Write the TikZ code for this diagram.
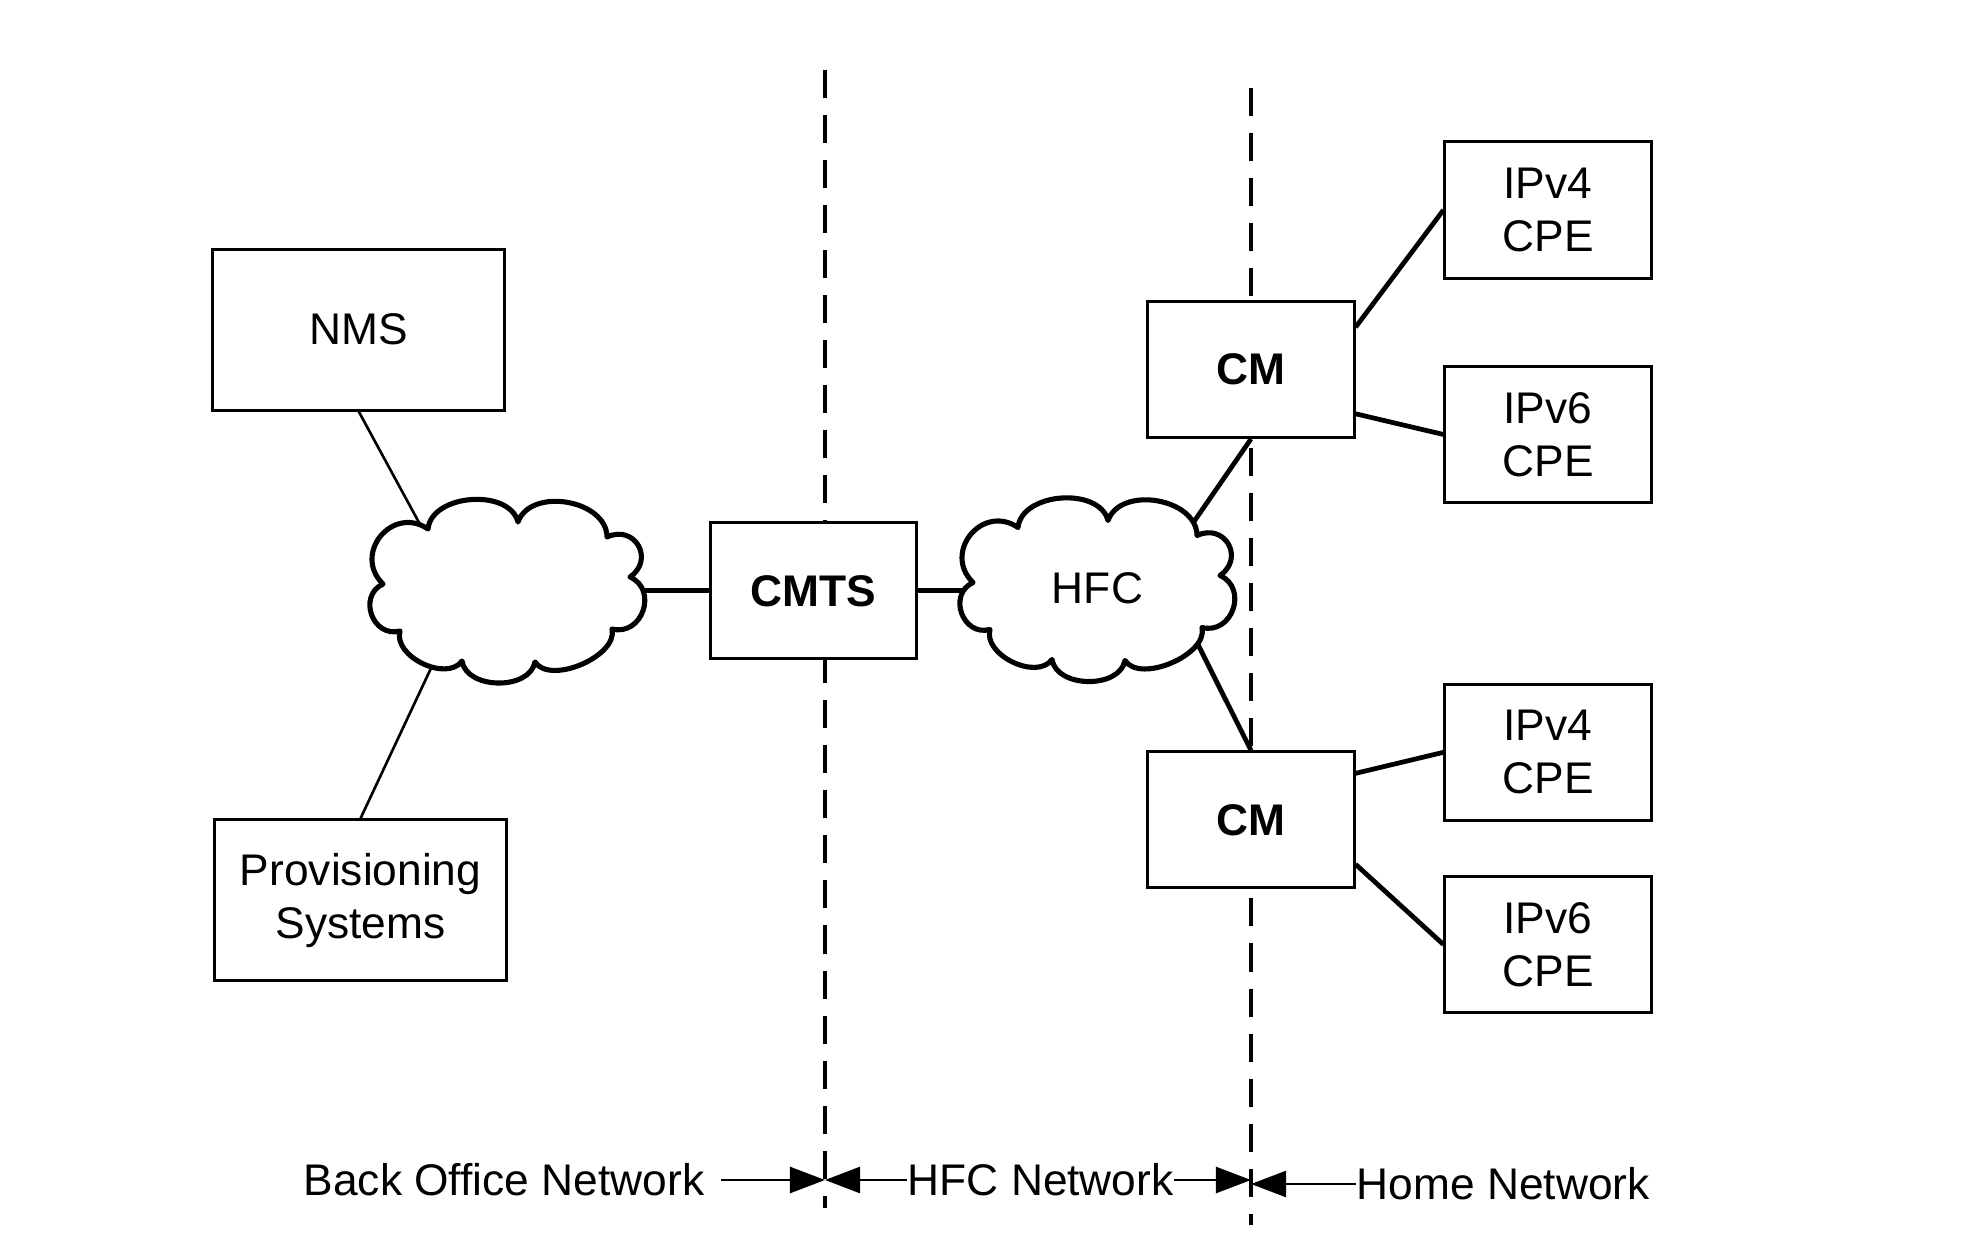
\documentclass[tikz,border=0pt]{standalone}
\usepackage{fontspec}
\setmainfont{Liberation Sans}
\usetikzlibrary{calc,arrows.meta,backgrounds}
\begin{document}
\begin{tikzpicture}[x=0.01cm,y=0.01cm,
  font=\fontsize{12.6}{15}\selectfont,
  box/.style={draw,line width=0.85pt,fill=white,minimum width=2.06cm,minimum height=1.36cm,align=center,inner sep=0pt},
  bigbox/.style={box,minimum width=2.92cm,minimum height=1.61cm},
  boldbox/.style={box,font=\fontsize{12.6}{15}\selectfont\bfseries},
  thinlink/.style={line width=0.75pt},
  thicklink/.style={line width=1.35pt},
  divider/.style={line width=0.9pt,dash pattern=on 0.28cm off 0.17cm},
  cloudline/.style={line width=1.45pt,fill=white,line join=round},
  zonearrow/.style={line width=0.7pt,-{Triangle[length=0.35cm,width=0.26cm]}},
  pics/puffcloud/.style={code={
    \draw[cloudline] (-124.5,7.5)
      to[bend left=85,looseness=1.55] (-79.5,62.5)
      to[bend left=80,looseness=1.0] (10.5,69.5)
      to[bend left=80,looseness=1.06] (99.5,54.5)
      to[bend left=85,looseness=1.7] (122.5,14.5)
      to[bend left=85,looseness=1.45] (104.5,-37.5)
      to[bend left=80,looseness=0.85] (27.5,-70.5)
      to[bend left=80,looseness=1.02] (-45.5,-69.5)
      to[bend left=80,looseness=0.98] (-107.5,-39.5)
      to[bend left=85,looseness=1.45] (-124.5,7.5) -- cycle;
  }}
]
\useasboundingbox (0,0) rectangle (1984,1250);

% boxes
\node[bigbox] (nms) at (358.8,920.4) {NMS};
\node[bigbox] (prov) at (360.6,349.7) {Provisioning\\Systems};
\node[boldbox] (cmts) at (813.5,659.2) {CMTS};
\node[boldbox] (cm1) at (1251,880.6) {CM};
\node[boldbox] (cm2) at (1251,430.1) {CM};
\node[box] (ipv4a) at (1548,1040) {IPv4\\CPE};
\node[box] (ipv6a) at (1548,815.5) {IPv6\\CPE};
\node[box] (ipv4b) at (1548,497.7) {IPv4\\CPE};
\node[box] (ipv6b) at (1548,305.5) {IPv6\\CPE};

% clouds
\coordinate (cloud1) at (507.5,658.5);
\coordinate (cloud2) at (1097.5,660);
\pic at (cloud1) {puffcloud};
\pic at (cloud2) {puffcloud};
\node[inner sep=0pt] (hfc) at ($(cloud2)+(0,2)$) {HFC};

% attachment points inside the clouds
\coordinate (c1a) at ($(cloud1)+(-72.5,39.5)$);
\coordinate (c1b) at ($(cloud1)+(-63.6,-49.2)$);
\coordinate (c1e) at ($(cloud1)+(110,0)$);
\coordinate (c2w) at ($(cloud2)+(-110,0)$);
\coordinate (c2a) at ($(cloud2)+(81,46)$);
\coordinate (c2b) at ($(cloud2)+(91.7,-37)$);

% divider ends
\coordinate (d1top) at (825,1180);
\coordinate (d1bot) at (825,42);
\coordinate (d2top) at (1251,1162);
\coordinate (d2bot) at (1251,25);

\begin{scope}[on background layer]
  \draw[divider] (d1top) -- (d1bot);
  \draw[divider] (d2top) -- (d2bot);
  \draw[thinlink] (nms.south) -- (c1a);
  \draw[thinlink] (prov.north) -- (c1b);
  \draw[thicklink] (cmts.west) -- (cmts.west -| c1e);
  \draw[thicklink] (cmts.east) -- (cmts.east -| c2w);
  \draw[thicklink] (cm1.south) -- (c2a);
  \draw[thicklink] (cm2.north) -- (c2b);
\end{scope}

\draw[thicklink] (cm1.22.7) -- (ipv4a.west);
\draw[thicklink] (cm1.-23.2) -- (ipv6a.west);
\draw[thicklink] (cm2.24) -- (ipv4b.west);
\draw[thicklink] (cm2.-23.8) -- (ipv6b.west);

% zone labels
\node[anchor=east,inner xsep=0.16cm,inner ysep=0pt] (bo) at (721,70) {Back Office Network};
\node[anchor=west,inner sep=0pt] (hfcn) at (907,70) {HFC Network};
\node[anchor=west,inner sep=0pt] (home) at (1356,66) {Home Network};
\draw[zonearrow] (bo.east) -- (bo.east -| d1top);
\draw[zonearrow] (hfcn.west) -- (hfcn.west -| d1top);
\draw[zonearrow] (hfcn.east) -- (hfcn.east -| d2top);
\draw[zonearrow] (home.west) -- (home.west -| d2top);
\end{tikzpicture}
\end{document}
